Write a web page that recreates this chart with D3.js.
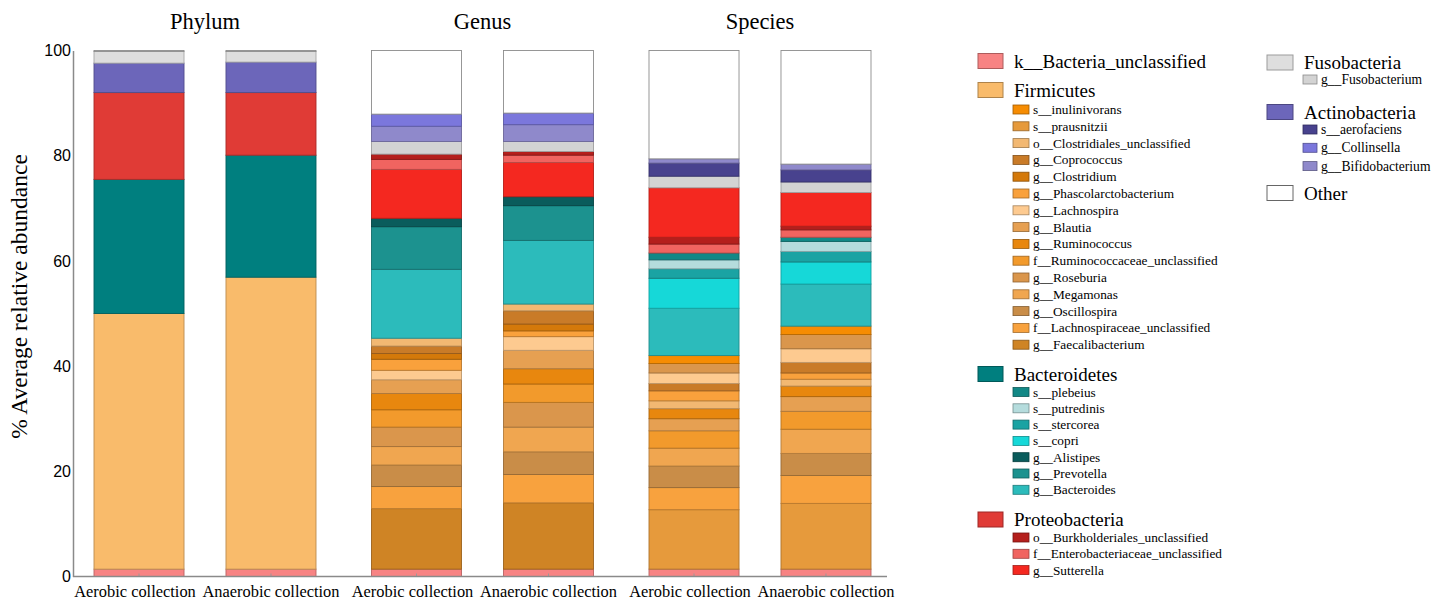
<!DOCTYPE html>
<html>
<head>
<meta charset="utf-8">
<script src="https://cdn.jsdelivr.net/npm/d3@7"></script>
<style>
  html, body { margin: 0; padding: 0; background: #fff; }
  svg { display: block; }
</style>
</head>
<body>
<svg id="chart" width="1445" height="600"></svg>
<script>
// ---- Taxa and colours (legend groups) ----
const phylumNames  = ["k__Bacteria_unclassified", "Firmicutes", "Bacteroidetes", "Proteobacteria", "Fusobacteria", "Actinobacteria", "Other"];
const phylumColors = ["#f78383", "#f9bb6b", "#007f7f", "#e03b36", "#dedede", "#6c66ba", "#ffffff"];

const firmicutesTaxa = ["s__inulinivorans", "s__prausnitzii", "o__Clostridiales_unclassified", "g__Coprococcus", "g__Clostridium",
  "g__Phascolarctobacterium", "g__Lachnospira", "g__Blautia", "g__Ruminococcus", "f__Ruminococcaceae_unclassified",
  "g__Roseburia", "g__Megamonas", "g__Oscillospira", "f__Lachnospiraceae_unclassified", "g__Faecalibacterium"];
const firmicutesColors = ["#f68c02", "#e69a3c", "#f2b872", "#c97b28", "#d4790a",
  "#f9a13c", "#fdca90", "#e6a052", "#e8870e", "#f29a2c",
  "#da964c", "#f0a650", "#c98d48", "#f8a23e", "#cf8425"];

const bacteroidetesTaxa = ["s__plebeius", "s__putredinis", "s__stercorea", "s__copri", "g__Alistipes", "g__Prevotella", "g__Bacteroides"];
const bacteroidetesColors = ["#128886", "#b5dcdd", "#1aa3a3", "#16d8d8", "#0a5c5c", "#1c928f", "#2cbbbb"];

const proteobacteriaTaxa = ["o__Burkholderiales_unclassified", "f__Enterobacteriaceae_unclassified", "g__Sutterella"];
const proteobacteriaColors = ["#b41f1c", "#f06460", "#f42820"];

const fusobacteriaTaxa = ["g__Fusobacterium"];
const fusobacteriaColors = ["#d3d3d3"];

const actinobacteriaTaxa = ["s__aerofaciens", "g__Collinsella", "g__Bifidobacterium"];
const actinobacteriaColors = ["#48428e", "#7b77dc", "#8f89cb"];

// ---- Panels and samples ----
const panels  = ["Phylum", "Genus", "Species"];
const samples = ["Aerobic collection", "Anaerobic collection"];
const yTicks  = [0, 20, 40, 60, 80, 100];

// ---- Stacks, bottom to top (% average relative abundance) ----
const phylumOrder = ["k__Bacteria_unclassified", "Firmicutes", "Bacteroidetes", "Proteobacteria", "Actinobacteria", "Fusobacteria", "Other"];
const phylumAerobic   = [1.4, 48.6, 25.5, 16.5, 5.6, 2.2, 0.2];
const phylumAnaerobic = [1.4, 55.5, 23.2, 11.9, 5.8, 2.0, 0.2];

const genusOrder = ["k__Bacteria_unclassified", "g__Faecalibacterium", "f__Lachnospiraceae_unclassified", "g__Oscillospira",
  "g__Megamonas", "g__Roseburia", "f__Ruminococcaceae_unclassified", "g__Ruminococcus", "g__Blautia", "g__Lachnospira",
  "g__Phascolarctobacterium", "g__Clostridium", "g__Coprococcus", "o__Clostridiales_unclassified",
  "g__Bacteroides", "g__Prevotella", "g__Alistipes",
  "g__Sutterella", "f__Enterobacteriaceae_unclassified", "o__Burkholderiales_unclassified",
  "g__Fusobacterium", "g__Bifidobacterium", "g__Collinsella", "Other"];
const genusAerobic   = [1.4, 11.5, 4.2, 4.1, 3.5, 3.7, 3.3, 3.1, 2.6, 1.8, 2.1, 1.1, 1.4, 1.5,
  13.1, 8.1, 1.6, 9.3, 1.9, 1.0, 2.4, 2.9, 2.3, 12.1];
const genusAnaerobic = [1.4, 12.6, 5.4, 4.3, 4.7, 4.7, 3.5, 2.9, 3.5, 2.6, 1.1, 1.3, 2.5, 1.3,
  12.1, 6.6, 1.7, 6.5, 1.4, 0.7, 1.9, 3.2, 2.2, 11.9];

const speciesOrder = ["k__Bacteria_unclassified", "s__prausnitzii", "f__Lachnospiraceae_unclassified", "g__Oscillospira",
  "g__Megamonas", "f__Ruminococcaceae_unclassified", "g__Blautia", "g__Ruminococcus", "o__Clostridiales_unclassified",
  "g__Phascolarctobacterium", "g__Coprococcus", "g__Lachnospira", "g__Roseburia", "s__inulinivorans",
  "g__Bacteroides", "s__copri", "s__stercorea", "s__putredinis", "s__plebeius",
  "f__Enterobacteriaceae_unclassified", "o__Burkholderiales_unclassified", "g__Sutterella",
  "g__Fusobacterium", "s__aerofaciens", "g__Bifidobacterium", "Other"];
const speciesAerobic   = [1.4, 11.3, 4.2, 4.1, 3.4, 3.3, 2.3, 1.9, 1.5, 1.9, 1.4, 2.0, 1.8, 1.5,
  9.0, 5.7, 1.8, 1.7, 1.3, 1.7, 1.3, 9.4, 2.2, 2.5, 0.8, 20.6];
const speciesAnaerobic = [1.4, 12.5, 5.3, 4.2, 4.6, 3.4, 2.8, 2.0, 1.3, 1.2, 2.0, 2.6, 2.7, 1.6,
  8.0, 4.2, 2.0, 1.9, 0.8, 1.4, 0.7, 6.4, 2.0, 2.3, 1.1, 21.6];

// ---- Colour lookup ----
const colorOf = new Map();
[[phylumNames, phylumColors], [firmicutesTaxa, firmicutesColors], [bacteroidetesTaxa, bacteroidetesColors],
 [proteobacteriaTaxa, proteobacteriaColors], [fusobacteriaTaxa, fusobacteriaColors],
 [actinobacteriaTaxa, actinobacteriaColors]].forEach(([names, cols]) => names.forEach((n, i) => colorOf.set(n, cols[i])));

const strokeOf = name => name === "Other" ? "#8c8c8c" : d3.color(colorOf.get(name)).darker(0.8).formatHex();

const serif = "'Liberation Serif','Times New Roman',serif";
const sans  = "'Liberation Sans',Arial,sans-serif";

const svg = d3.select("#chart");

// ---- Scales ----
const y = d3.scaleLinear().domain([0, 100]).range([576.5, 50.5]);
const panelX = d3.scalePoint().domain(panels).range([205, 760]);
const innerX = p => d3.scaleBand().domain(samples)
  .range([panelX(p) - 111, panelX(p) + 111]).paddingInner(0.318).paddingOuter(0);

const panelData = {
  Phylum:  { order: phylumOrder,  values: [phylumAerobic,  phylumAnaerobic] },
  Genus:   { order: genusOrder,   values: [genusAerobic,   genusAnaerobic] },
  Species: { order: speciesOrder, values: [speciesAerobic, speciesAnaerobic] }
};

// ---- Stacked bars ----
panels.forEach(p => {
  const { order, values } = panelData[p];
  const xb = innerX(p);
  const rows = samples.map((s, si) => {
    const r = { sample: s };
    order.forEach((k, ki) => r[k] = values[si][ki]);
    return r;
  });
  const series = d3.stack().keys(order)(rows);
  const g = svg.append("g").attr("class", "panel-" + p);
  series.forEach(ser => {
    g.selectAll(null).data(ser).join("rect")
      .attr("x", d => xb(d.data.sample))
      .attr("y", d => y(d[1]))
      .attr("width", xb.bandwidth())
      .attr("height", d => Math.max(0, y(d[0]) - y(d[1])))
      .attr("fill", colorOf.get(ser.key))
      .attr("stroke", strokeOf(ser.key))
      .attr("stroke-width", 0.9);
  });

  // category axis under each panel
  const ax = svg.append("g")
    .attr("transform", `translate(0,${y(0)})`)
    .call(d3.axisBottom(xb).tickSize(-3).tickPadding(9));
  ax.select(".domain").remove();
  ax.selectAll(".tick line").attr("stroke", "#9a9a9a");
  ax.selectAll("text")
    .attr("font-family", serif).attr("font-size", "16.4px").attr("fill", "#000")
    .attr("dx", d => d === samples[0] ? -4 : 0);

  // panel title
  svg.append("text")
    .attr("x", panelX(p)).attr("y", 29)
    .attr("text-anchor", "middle")
    .attr("font-family", serif).attr("font-size", "22.5px")
    .text(p);
});

// ---- Value axis ----
const yAxis = svg.append("g")
  .attr("transform", "translate(73,0)")
  .call(d3.axisLeft(y).tickValues(yTicks).tickSize(0).tickPadding(2));
yAxis.select(".domain").attr("stroke", "#8a8a8a").attr("stroke-width", 1.5);
yAxis.selectAll("text").attr("font-family", sans).attr("font-size", "16px").attr("fill", "#000");

svg.append("line")
  .attr("x1", 73).attr("x2", 887)
  .attr("y1", y(0)).attr("y2", y(0))
  .attr("stroke", "#8a8a8a").attr("stroke-width", 1.5);

svg.append("text")
  .attr("transform", `translate(27,${(y(0) + y(100)) / 2 - 17}) rotate(-90)`)
  .attr("text-anchor", "middle")
  .attr("font-family", serif).attr("font-size", "23.5px")
  .text("% Average relative abundance");

// ---- Legend ----
const legend = svg.append("g").attr("class", "legend");

function header(x, yc, name, w) {
  legend.append("rect")
    .attr("x", x).attr("y", yc - 7.5).attr("width", w).attr("height", 15)
    .attr("fill", colorOf.get(name))
    .attr("stroke", name === "Other" ? "#666" : d3.color(colorOf.get(name)).darker(1).formatHex())
    .attr("stroke-width", 1);
  legend.append("text")
    .attr("x", x + w + 11).attr("y", yc + 6.5)
    .attr("font-family", serif).attr("font-size", "19px")
    .text(name);
}

function items(x, y0, step, names, w, fs) {
  names.forEach((n, i) => {
    const yc = y0 + i * step;
    legend.append("rect")
      .attr("x", x).attr("y", yc - 4.5).attr("width", w).attr("height", 9)
      .attr("fill", colorOf.get(n))
      .attr("stroke", d3.color(colorOf.get(n)).darker(1.2).formatHex())
      .attr("stroke-width", 0.8);
    legend.append("text")
      .attr("x", x + w + 4).attr("y", yc + 4.5)
      .attr("font-family", serif).attr("font-size", fs)
      .text(n);
  });
}

// first column
header(978, 61, phylumNames[0], 25);
header(978, 90, phylumNames[1], 25);
items(1013, 109.5, 16.8, firmicutesTaxa, 16, "13.3px");
header(978, 374, phylumNames[2], 25);
items(1013, 392, 16.3, bacteroidetesTaxa, 16, "13.3px");
header(978, 519.5, phylumNames[3], 25);
items(1013, 537.5, 16.3, proteobacteriaTaxa, 16, "13.3px");

// second column
header(1267, 62.5, phylumNames[4], 26);
items(1303, 79.5, 18, fusobacteriaTaxa, 14, "13.6px");
header(1267, 112, phylumNames[5], 26);
items(1303, 129.5, 18.3, actinobacteriaTaxa, 14, "13.6px");
header(1267, 193, phylumNames[6], 26);
</script>
</body>
</html>
